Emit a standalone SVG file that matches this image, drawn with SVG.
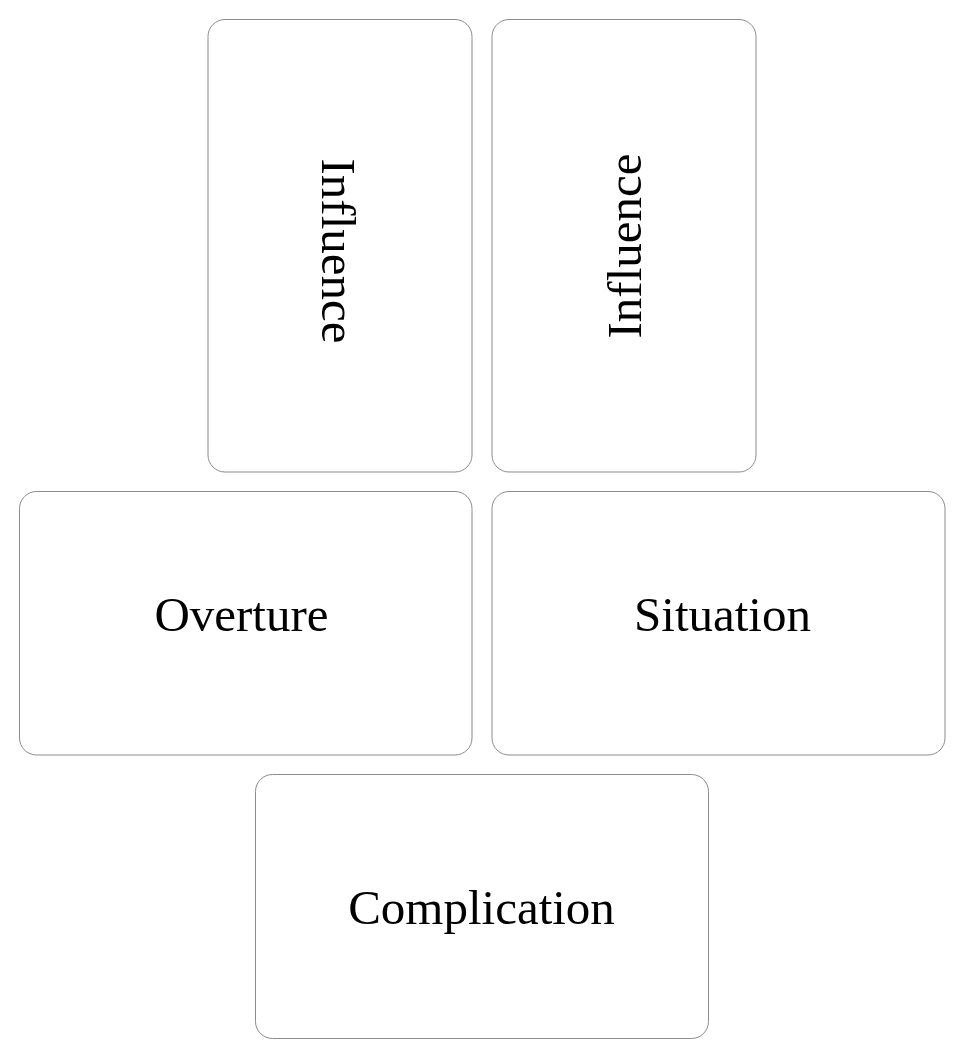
<svg xmlns="http://www.w3.org/2000/svg" width="964" height="1058" viewBox="0 0 964 1058">
<style>
.box{fill:#fff;stroke:#8c8c8c;stroke-width:1}
.lbl{font-family:"Liberation Serif","DejaVu Serif",serif;font-size:49px;fill:#000;text-anchor:middle}
</style>
<rect width="964" height="1058" fill="#fff"/>
<g id="connectors"/>
<g id="influence1">
<rect class="box" x="208" y="19.5" width="264" height="452.5" rx="17"/>
<text class="lbl" transform="translate(322,251) rotate(90)">Influence</text>
</g>
<g id="influence2">
<rect class="box" x="492" y="19.5" width="264" height="452.5" rx="17"/>
<text class="lbl" transform="translate(641,246) rotate(-90)">Influence</text>
</g>
<g id="overture">
<rect class="box" x="19.5" y="491.5" width="452.5" height="263.5" rx="17"/>
<text class="lbl" x="241.5" y="631">Overture</text>
</g>
<g id="situation">
<rect class="box" x="492" y="491.5" width="453" height="263.5" rx="17"/>
<text class="lbl" x="722.5" y="631">Situation</text>
</g>
<g id="complication">
<rect class="box" x="255.5" y="774.5" width="453" height="264" rx="17"/>
<text class="lbl" x="481.5" y="924">Complication</text>
</g>
</svg>
